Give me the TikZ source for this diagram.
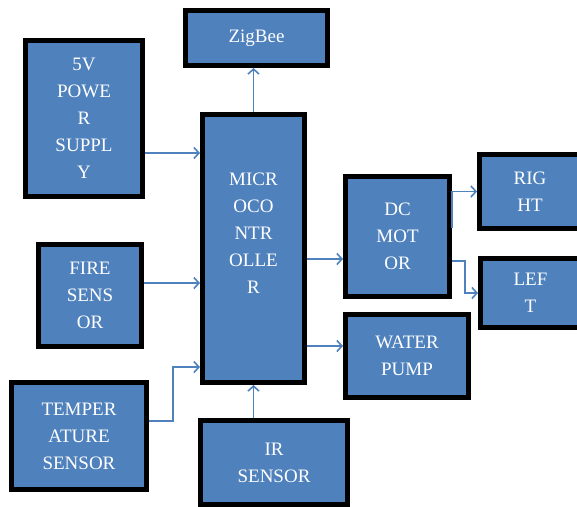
\documentclass[tikz,border=0pt]{standalone}
\usepackage{fontspec}
\setmainfont{Liberation Serif}
\usetikzlibrary{arrows.meta}
\definecolor{boxblue}{HTML}{4F81BD}

\begin{document}
\begin{tikzpicture}[x=1pt, y=-1pt,
		blk/.style={draw=black, line width=5pt, fill=boxblue, text=white, align=center,
			inner sep=0pt, font=\fontsize{19}{27}\selectfont},
		arr/.style={draw=boxblue, line width=1.6pt, -{Straight Barb[length=5pt, width=11pt, line width=1.6pt]}}]
			\useasboundingbox (0,0) rectangle (577,506);
			\node[blk, minimum width=142pt, minimum height=55pt] (zigbee) at (256.5,38) {ZigBee};
			\node[blk, minimum width=117pt, minimum height=156pt] (power) at (84,118.5) {5V\\POWE\\R\\SUPPL\\Y};
			\node[blk, minimum width=102pt, minimum height=268pt,
				label={[text=white, align=center, font=\fontsize{19}{27}\selectfont, yshift=15pt]center:MICR\\OCO\\NTR\\OLLE\\R}] (mcu) at (253.5,248.5) {};
			\node[blk, minimum width=103pt, minimum height=102pt] (fire) at (90,295.5) {FIRE\\SENS\\OR};
			\node[blk, minimum width=135pt, minimum height=107pt] (temp) at (79,436) {TEMPER\\ATURE\\SENSOR};
			\node[blk, minimum width=147pt, minimum height=84pt] (ir) at (274,462.5) {IR\\SENSOR};
			\node[blk, minimum width=104pt, minimum height=120pt] (dc) at (397.5,236.5) {DC\\MOT\\OR};
			\node[blk, minimum width=123pt, minimum height=83pt] (pump) at (407,356) {WATER\\PUMP};
			\node[blk, minimum width=101pt, minimum height=74pt] (right) at (530,191.5) {RIG\\HT};
			\node[blk, minimum width=100pt, minimum height=69pt] (left) at (530.5,293) {LEF\\T};
			% inputs
			\draw[arr] ([yshift=-34.5pt]power.east) -- ([yshift=-34.5pt]power.east -| mcu.west);
			\draw[arr] ([yshift=12.5pt]fire.east) -- ([yshift=12.5pt]fire.east -| mcu.west);
			\draw[arr] ([yshift=15pt]temp.east) -- ++(24,0) |- ([yshift=-118.5pt]mcu.west);
			\draw[arr] (mcu.south |- ir.north) -- (mcu.south);
			% outputs
			\draw[arr] (mcu.north) -- (mcu.north |- zigbee.south);
			\draw[arr] ([yshift=-10.5pt]mcu.east) -- ([yshift=-10.5pt]mcu.east -| dc.west);
			\draw[arr] ([yshift=10pt]pump.west -| mcu.east) -- ([yshift=10pt]pump.west);
			\draw[arr] ([yshift=8.5pt]dc.east) |- (right.west);
			\draw[arr] ([yshift=-24.5pt]dc.east) -- ++(13,0) |- (left.west);
		\end{tikzpicture}
\end{document}
